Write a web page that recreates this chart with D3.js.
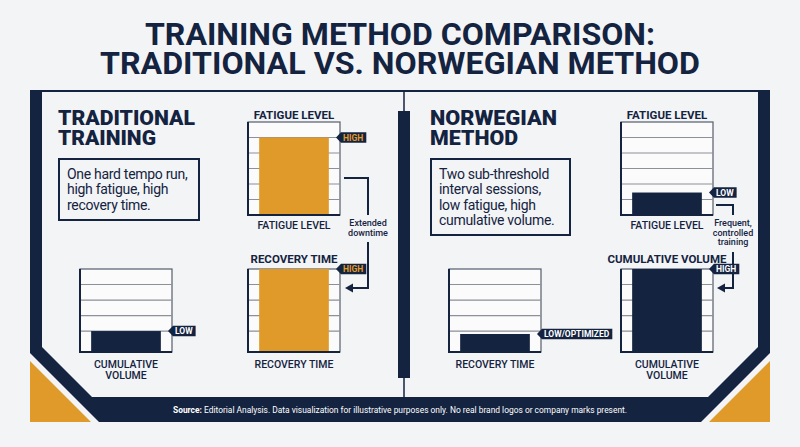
<!DOCTYPE html>
<head>
    <meta charset="utf-8">
    <script src="https://d3js.org/d3.v7.min.js"></script>
    <style>
        body {
            margin: 0;
            background: #f3f4f6;
        }

        text {
            font-family: Roboto, "DejaVu Sans", sans-serif;
        }
    </style>
</head>

<body>
<svg id="chart" width="800" height="447"></svg>
<script>

    // ---- data ----
    const titleLines = ["TRAINING METHOD COMPARISON:", "TRADITIONAL VS. NORWEGIAN METHOD"];
    const panelTitles = [["TRADITIONAL", "TRAINING"], ["NORWEGIAN", "METHOD"]];
    const panelNotes = [
        ["One hard tempo run,", "high fatigue, high", "recovery time."],
        ["Two sub-threshold", "interval sessions,", "low fatigue, high", "cumulative volume."]
    ];
    const metricNames = ["FATIGUE LEVEL", "RECOVERY TIME", "CUMULATIVE VOLUME",
        "FATIGUE LEVEL", "CUMULATIVE VOLUME", "RECOVERY TIME"];
    const metricValues = [5, 5.35, 1.35, 1.45, 5.35, 1.16];
    const metricLevels = ["HIGH", "HIGH", "LOW", "LOW", "HIGH", "LOW/OPTIMIZED"];
    const topScaleMax = 6, bottomScaleMax = 5.35;
    const topGrid = [1, 2, 3, 4, 5];
    const bottomGrid = [1.35, 2.35, 3.35, 4.35];
    const linkNotes = [["Extended", "downtime"], ["Frequent,", "controlled", "training"]];
    const sourceLabel = "Source:";
    const sourceNote = " Editorial Analysis. Data visualization for illustrative purposes only. No real brand logos or company marks present.";

    const navy = "#14233f", gold = "#e09a2a", bg = "#f3f4f6";

    const svg = d3.select("#chart");

    svg.append("rect").attr("width", 800).attr("height", 447).attr("fill", bg);

    // title
    const titleWidths = [510, 600];
    svg.selectAll(".title").data(titleLines).enter()
        .append("text")
        .attr("class", "title")
        .attr("x", 400)
        .attr("y", function (d, i) { return 45 + i * 28.5 })
        .attr("text-anchor", "middle")
        .attr("textLength", function (d, i) { return titleWidths[i] })
        .attr("lengthAdjust", "spacingAndGlyphs")
        .style("font-size", "31px")
        .style("font-weight", 700)
        .style("fill", navy)
        .text(function (d) { return d });

    // frame
    svg.append("polygon").attr("points", "30,90 770,90 770,353 701,422 99,422 30,353").attr("fill", navy);
    svg.append("polygon").attr("points", "42,92 758,92 758,347 708,397 92,397 42,347").attr("fill", bg);
    svg.append("polygon").attr("points", "30,361 30,422 91,422").attr("fill", gold);
    svg.append("polygon").attr("points", "770,361 770,422 709,422").attr("fill", gold);

    // centre divider
    svg.append("line").attr("x1", 404).attr("x2", 404).attr("y1", 92).attr("y2", 112)
        .attr("stroke", navy).attr("stroke-width", 1.5);
    svg.append("rect").attr("x", 398).attr("y", 111).attr("width", 12).attr("height", 267).attr("fill", navy);
    svg.append("line").attr("x1", 404).attr("x2", 404).attr("y1", 377).attr("y2", 397)
        .attr("stroke", navy).attr("stroke-width", 1.5);

    // panel headings and notes
    const panelX = [58, 430];
    const headWidths = [[137, 98], [127, 88]];
    const noteBox = [{w: 140, h: 61}, {w: 139, h: 76}];

    panelTitles.forEach(function (lines, p) {
        svg.selectAll(".ptitle" + p).data(lines).enter()
            .append("text")
            .attr("x", panelX[p])
            .attr("y", function (d, i) { return 124.5 + i * 20 })
            .attr("textLength", function (d, i) { return headWidths[p][i] })
            .attr("lengthAdjust", "spacingAndGlyphs")
            .style("font-size", "20px")
            .style("font-weight", 900)
            .style("fill", navy)
            .text(function (d) { return d });

        svg.append("rect")
            .attr("x", panelX[p] + 1).attr("y", 159)
            .attr("width", noteBox[p].w).attr("height", noteBox[p].h)
            .attr("fill", "none").attr("stroke", navy).attr("stroke-width", 2);

        svg.selectAll(".pnote" + p).data(panelNotes[p]).enter()
            .append("text")
            .attr("x", panelX[p] + 9)
            .attr("y", function (d, i) { return 178.5 + i * 15.5 })
            .style("font-size", "14px")
            .style("letter-spacing", "-0.3px")
            .style("fill", navy)
            .text(function (d) { return d });
    });

    // connectors between the charts (drawn under the tags)
    const link = [
        {x0: 344, y0: 178, x1: 368, gapTop: 215, gapBottom: 242, y1: 288, tip: 345, textY: 226},
        {x0: 716, y0: 205, x1: 733, gapTop: 215, gapBottom: 252, y1: 288, tip: 717, textY: 226}
    ];
    link.forEach(function (c, k) {
        svg.append("path")
            .attr("d", "M" + c.x0 + "," + c.y0 + "H" + c.x1 + "V" + c.gapTop)
            .attr("fill", "none").attr("stroke", navy).attr("stroke-width", 2);
        svg.append("path")
            .attr("d", "M" + c.x1 + "," + c.gapBottom + "V" + c.y1 + "H" + (c.tip + 6))
            .attr("fill", "none").attr("stroke", navy).attr("stroke-width", 2);
        svg.append("path")
            .attr("d", "M" + c.tip + "," + c.y1 + "L" + (c.tip + 8) + "," + (c.y1 - 4.5) + "V" + (c.y1 + 4.5) + "Z")
            .attr("fill", navy);
        svg.selectAll(".lnote" + k).data(linkNotes[k]).enter()
            .append("text")
            .attr("x", c.x1)
            .attr("y", function (d, i) { return c.textY + i * 9.5 })
            .attr("text-anchor", "middle")
            .style("font-size", "9px")
            .style("font-weight", 500)
            .style("fill", navy)
            .text(function (d) { return d });
    });

    // small bar charts
    const layout = [
        {x: 248, y: 122, h: 93, top: true, head: true, wrap: false, fill: gold},
        {x: 248, y: 269, h: 83, top: false, head: true, wrap: false, fill: gold},
        {x: 80, y: 269, h: 83, top: false, head: false, wrap: true, fill: navy},
        {x: 621, y: 122, h: 93, top: true, head: true, wrap: false, fill: navy},
        {x: 621, y: 269, h: 83, top: false, head: true, wrap: true, fill: navy},
        {x: 449, y: 269, h: 83, top: false, head: false, wrap: false, fill: navy}
    ];
    const boxW = 92;

    metricNames.forEach(function (name, i) {
        const L = layout[i];
        const y = d3.scaleLinear()
            .domain([0, L.top ? topScaleMax : bottomScaleMax])
            .range([L.y + L.h, L.y]);
        const x = d3.scaleBand()
            .domain([name])
            .range([L.x, L.x + boxW])
            .paddingInner(0)
            .paddingOuter(0.16);
        const g = svg.append("g");

        g.append("rect")
            .attr("x", L.x).attr("y", L.y).attr("width", boxW).attr("height", L.h)
            .attr("fill", "#fbfbfc").attr("stroke", "#555d6b").attr("stroke-width", 1.2);

        g.selectAll(".grid").data(L.top ? topGrid : bottomGrid).enter()
            .append("line")
            .attr("x1", L.x).attr("x2", L.x + boxW)
            .attr("y1", function (d) { return y(d) })
            .attr("y2", function (d) { return y(d) })
            .attr("stroke", "#8b9099").attr("stroke-width", 1.2);

        g.append("rect")
            .attr("x", x(name))
            .attr("y", y(metricValues[i]))
            .attr("width", x.bandwidth())
            .attr("height", y(0) - y(metricValues[i]))
            .attr("fill", L.fill);

        // left + bottom axis lines
        g.append("path")
            .attr("d", "M" + L.x + "," + L.y + "V" + (L.y + L.h) + "H" + (L.x + boxW))
            .attr("fill", "none").attr("stroke", navy).attr("stroke-width", 2);

        if (L.head) {
            g.append("text")
                .attr("x", L.x + boxW / 2)
                .attr("y", L.top ? 119 : 262.5)
                .attr("text-anchor", "middle")
                .style("font-size", "11.5px")
                .style("font-weight", 700)
                .style("fill", navy)
                .text(name);
        }

        const foot = L.wrap ? name.split(" ") : [name];
        g.selectAll(".foot").data(foot).enter()
            .append("text")
            .attr("x", L.x + boxW / 2)
            .attr("y", function (d, k) { return (L.top ? 229 : 367.5) + k * 11 })
            .attr("text-anchor", "middle")
            .style("font-size", "10.5px")
            .style("font-weight", 500)
            .style("fill", navy)
            .text(function (d) { return d });

        // level tag
        const tx = L.x + boxW - 4, ty = y(metricValues[i]);
        const tag = g.append("g").attr("transform", "translate(" + tx + "," + ty + ")");
        const shape = tag.append("path").attr("fill", navy);
        const label = tag.append("text")
            .attr("x", 7)
            .attr("y", 3.1)
            .style("font-size", "8.5px")
            .style("font-weight", 700)
            .style("fill", L.fill === gold ? gold : "#ffffff")
            .text(metricLevels[i]);
        const tw = label.node().getComputedTextLength() + 10;
        shape.attr("d", "M0,0L5,-5.2H" + tw + "V5.2H5Z");
    });

    // footer
    const src = svg.append("text")
        .attr("x", 400)
        .attr("y", 412.5)
        .attr("text-anchor", "middle")
        .attr("textLength", 454)
        .attr("lengthAdjust", "spacingAndGlyphs")
        .style("font-size", "9.5px")
        .style("fill", "#ffffff");
    src.append("tspan").style("font-weight", 700).text(sourceLabel);
    src.append("tspan").text(sourceNote);

</script>

</body>
